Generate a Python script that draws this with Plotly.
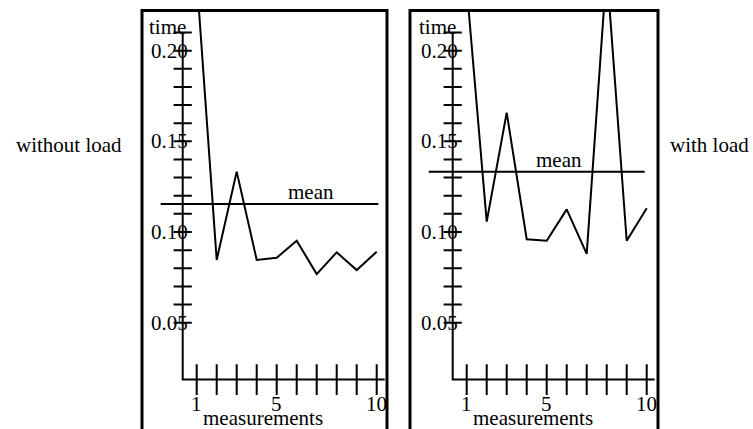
import plotly.graph_objects as go

# ---- data ----
measurements = [1, 2, 3, 4, 5, 6, 7, 8, 9, 10]
time_without_load = [0.240, 0.0846, 0.1333, 0.0846, 0.0858, 0.0952, 0.0768, 0.0888, 0.0790, 0.0891]
time_with_load = [0.235, 0.1057, 0.1658, 0.0960, 0.0952, 0.1125, 0.0879, 0.245, 0.0952, 0.1131]
mean_without_load = 0.1154
mean_with_load = 0.1333
panel_titles = ["without load", "with load"]
y_minor_ticks = [0.05, 0.06, 0.07, 0.08, 0.09, 0.10, 0.11, 0.12, 0.13, 0.14,
                 0.15, 0.16, 0.17, 0.18, 0.19, 0.20, 0.21]
y_label_values = [0.05, 0.10, 0.15, 0.20]
y_label_texts = ["0.05", "0.10", "0.15", "0.20"]
x_label_values = [1, 5, 10]
x_label_texts = ["1", "5", "10"]

# ---- layout geometry (pixels) ----
W, H = 753, 429
PX_PER_X = 20.0
PX_PER_Y = 1813.0
Y_REF_VAL, Y_REF_PX = 0.20, 50.7
X_AXIS_MIN, X_AXIS_MAX = 0.3, 10.4
Y_AXIS_MIN, Y_AXIS_MAX = 0.0186, 0.21
FONT = "Liberation Serif"
FS = 21

panels = [
    dict(x1px=196.7, frame=(142, 387), inner=(143.5, 385.5), title_px=69,
         mean_x=(-0.8, 10.08), mean_label_x=6.7),
    dict(x1px=466.7, frame=(410, 658), inner=(411.5, 656.5), title_px=709,
         mean_x=(-0.9, 9.9), mean_label_x=5.6),
]
series = [time_without_load, time_with_load]
means = [mean_without_load, mean_with_load]

TOP_PX, BOT_PX = 12.0, 429.0

fig = go.Figure()
layout = dict(width=W, height=H, margin=dict(l=0, r=0, t=0, b=0),
              paper_bgcolor="white", plot_bgcolor="white", showlegend=False,
              hovermode=False, shapes=[], annotations=[])

for i, p in enumerate(panels):
    n = "" if i == 0 else str(i + 1)
    xa, ya = "x" + n, "y" + n
    L, R = p["inner"]
    xr = [1 + (L - p["x1px"]) / PX_PER_X, 1 + (R - p["x1px"]) / PX_PER_X]
    yr = [Y_REF_VAL - (BOT_PX - Y_REF_PX) / PX_PER_Y, Y_REF_VAL - (TOP_PX - Y_REF_PX) / PX_PER_Y]
    layout["xaxis" + n] = dict(domain=[L / W, R / W], range=xr, visible=False,
                               anchor=ya, fixedrange=True)
    layout["yaxis" + n] = dict(domain=[1 - BOT_PX / H, 1 - TOP_PX / H], range=yr,
                               visible=False, anchor=xa, fixedrange=True)

    # data line
    fig.add_trace(go.Scatter(x=measurements, y=series[i], mode="lines",
                             line=dict(color="black", width=2), xaxis=xa, yaxis=ya))
    # axis lines
    fig.add_trace(go.Scatter(x=[X_AXIS_MIN, X_AXIS_MIN, X_AXIS_MAX],
                             y=[Y_AXIS_MAX, Y_AXIS_MIN, Y_AXIS_MIN], mode="lines",
                             line=dict(color="black", width=2), xaxis=xa, yaxis=ya))
    # x ticks (crossing)
    fig.add_trace(go.Scatter(x=measurements, y=[Y_AXIS_MIN] * len(measurements), mode="markers",
                             marker=dict(symbol="line-ns", size=22, color="black",
                                         line=dict(color="black", width=2)),
                             xaxis=xa, yaxis=ya))
    # y ticks (crossing)
    fig.add_trace(go.Scatter(x=[X_AXIS_MIN] * len(y_minor_ticks), y=y_minor_ticks, mode="markers",
                             marker=dict(symbol="line-ew", size=13, color="black",
                                         line=dict(color="black", width=2)),
                             xaxis=xa, yaxis=ya))
    # mean line
    layout["shapes"].append(dict(type="line", xref=xa, yref=ya, x0=p["mean_x"][0], x1=p["mean_x"][1],
                                 y0=means[i], y1=means[i], line=dict(color="black", width=2)))
    # frame
    fx0, fx1 = p["frame"]
    layout["shapes"].append(dict(type="rect", xref="paper", yref="paper", x0=fx0 / W, x1=fx1 / W,
                                 y0=-0.1, y1=1 - 10.5 / H, line=dict(color="black", width=3),
                                 layer="above"))

    font = dict(family=FONT, size=FS, color="black")
    for v, t in zip(y_label_values, y_label_texts):
        layout["annotations"].append(dict(xref=xa, yref=ya, x=X_AXIS_MIN, y=v, text=t,
                                          showarrow=False, xanchor="right", yanchor="middle",
                                          xshift=7, font=font))
    for v, t in zip(x_label_values, x_label_texts):
        layout["annotations"].append(dict(xref=xa, yref=ya, x=v, y=Y_AXIS_MIN, text=t,
                                          showarrow=False, xanchor="center", yanchor="middle",
                                          yshift=-24, font=font))
    layout["annotations"].append(dict(xref=xa, yref=ya, x=X_AXIS_MIN, y=Y_AXIS_MAX, text="time",
                                      showarrow=False, xanchor="right", yanchor="middle",
                                      xshift=5, yshift=6, font=font))
    layout["annotations"].append(dict(xref=xa, yref=ya, x=4.3, y=Y_AXIS_MIN, text="measurements",
                                      showarrow=False, xanchor="center", yanchor="middle",
                                      yshift=-38, font=font))
    layout["annotations"].append(dict(xref=xa, yref=ya, x=p["mean_label_x"], y=means[i], text="mean",
                                      showarrow=False, xanchor="center", yanchor="bottom",
                                      yshift=-2, font=font))
    layout["annotations"].append(dict(xref="paper", yref="paper", x=p["title_px"] / W, y=1 - 145 / H,
                                      text=panel_titles[i], showarrow=False, xanchor="center",
                                      yanchor="middle", font=font))

fig.update_layout(**layout)
fig.write_html("out.html", config={"displayModeBar": False, "staticPlot": True},
               post_script="document.body.style.margin='0px';document.body.style.overflow='hidden';")
